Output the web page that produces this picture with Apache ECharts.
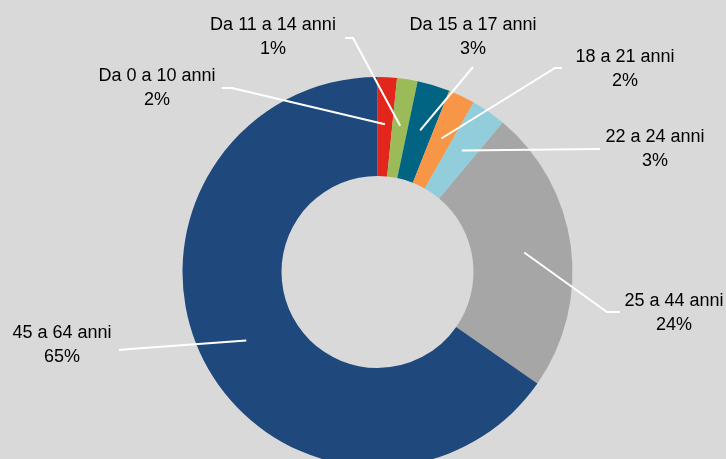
<!DOCTYPE html>
<html>
<head>
<meta charset="utf-8">
<script src="https://cdn.jsdelivr.net/npm/echarts@6/dist/echarts.min.js"></script>
<style>
  html, body { margin: 0; padding: 0; background: #d9d9d9; }
  #chart { width: 726px; height: 459px; }
</style>
</head>
<body>
<div id="chart"></div>
<script>
/* age bands donut */

var categories = ["Da 0 a 10 anni", "Da 11 a 14 anni", "Da 15 a 17 anni", "18 a 21 anni", "22 a 24 anni", "25 a 44 anni", "45 a 64 anni"];
var values = [1.6, 1.7, 2.7, 2.2, 2.9, 23.6, 65.3];
var shownPct = [2, 1, 3, 2, 3, 24, 65];
var colors = ["#e2261c", "#9bbb59", "#006482", "#f79646", "#92cddc", "#a6a6a6", "#1f497d"];

// label layout (centre of label text, elbow of guide line)
var labelPos = [[157, 88], [273, 37], [473, 37], [625, 69], [655, 149], [674, 313], [62, 345]];
var elbow = [[[232, 88], [222, 88]], [[353, 38], [345, 38]], [[473, 67], [473, 67]], [[555, 68], [562, 68]],
             [[600, 149], [600, 149]], [[607, 312], [620, 312]], [[130, 349], [119, 350]]];

var CX = 377.5, CY = 272, R_OUT = 195, R_IN = 96, R_LINE = 148;

var myChart = echarts.init(document.getElementById('chart'));

var data = [];
for (var i = 0; i < categories.length; i++) {
	data.push({ name: categories[i], value: values[i], itemStyle: { color: colors[i] } });
}

option = {
	backgroundColor: '#d9d9d9',
	animation: false,
	series: [{
		// the ring itself
		type: 'pie',
		z: 2,
		center: [CX, CY],
		radius: [R_IN, R_OUT],
		startAngle: 90,
		clockwise: true,
		silent: true,
		data: data,
		label: { show: false },
		labelLine: { show: false }
	}, {
		// transparent overlay, carries labels and white guide lines on top
		type: 'pie',
		z: 5,
		center: [CX, CY],
		radius: [0, R_LINE],
		startAngle: 90,
		clockwise: true,
		silent: true,
		avoidLabelOverlap: false,
		data: categories.map(function (c, i) { return { name: c, value: values[i] }; }),
		itemStyle: { color: 'rgba(0,0,0,0)' },
		label: {
			show: true,
			position: 'outside',
			fontFamily: '"Liberation Sans", Arial, sans-serif',
			fontSize: 18,
			lineHeight: 24,
			color: '#000',
			formatter: function (p) {
				return p.name + '\n' + shownPct[p.dataIndex] + '%';
			}
		},
		labelLine: {
			show: true,
			length: 10,
			length2: 10,
			smooth: false,
			lineStyle: { color: '#ffffff', width: 2 }
		},
		labelLayout: function (params) {
			var i = params.dataIndex;
			return {
				x: labelPos[i][0],
				y: labelPos[i][1],
				align: 'center',
				verticalAlign: 'middle',
				labelLinePoints: [params.labelLinePoints[0], elbow[i][0], elbow[i][1]]
			};
		}
	}]
};

myChart.setOption(option);
</script>
</body>
</html>
